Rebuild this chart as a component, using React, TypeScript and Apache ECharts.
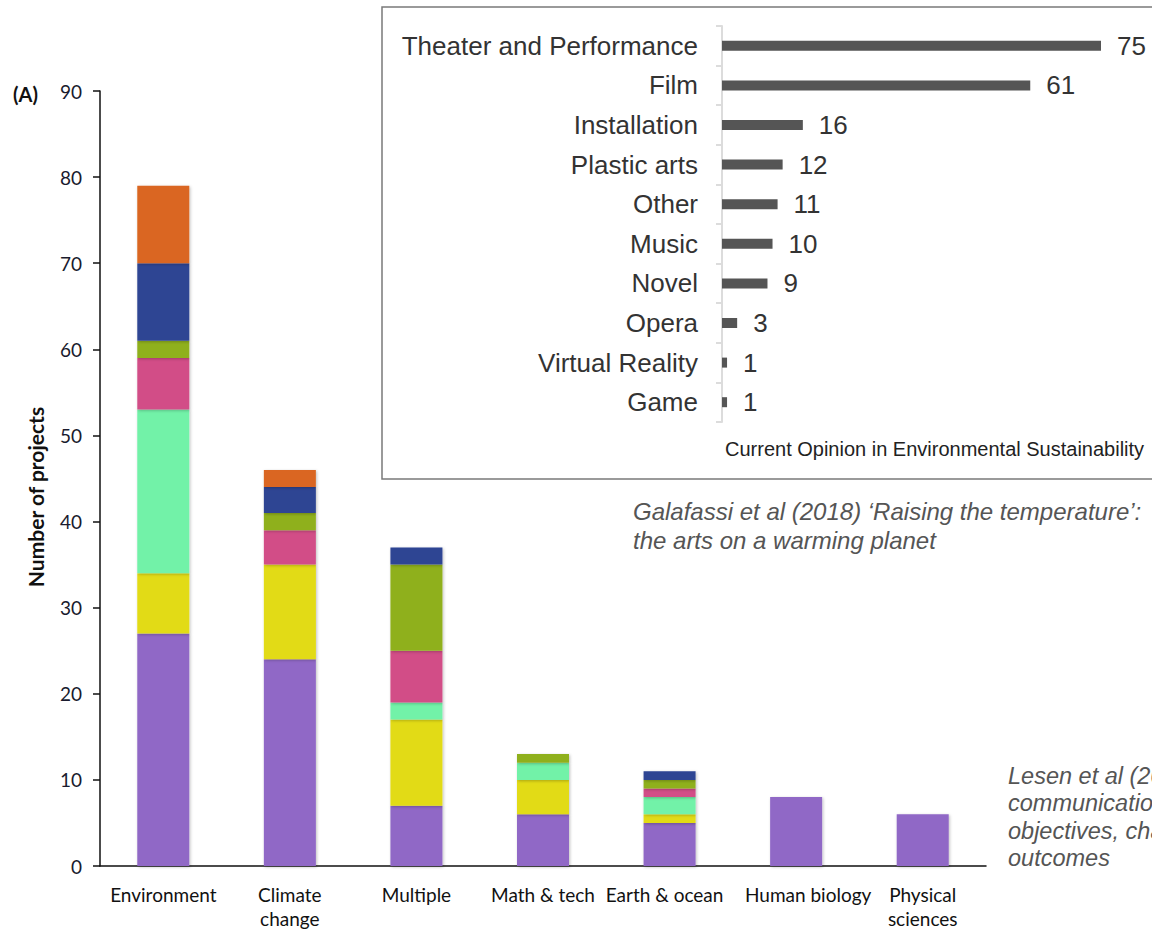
import React, { useEffect, useRef } from "react";
import * as echarts from "echarts";

// Main stacked chart
const fields = ["Environment", "Climate\nchange", "Multiple", "Math & tech", "Earth & ocean", "Human biology", "Physical\nsciences"];
const yTicks = [0, 10, 20, 30, 40, 50, 60, 70, 80, 90];
const purple = [27, 24, 7, 6, 5, 8, 6];
const yellow = [7, 11, 10, 4, 1, 0, 0];
const mint = [19, 0, 2, 2, 2, 0, 0];
const pink = [6, 4, 6, 0, 1, 0, 0];
const green = [2, 2, 10, 1, 1, 0, 0];
const blue = [9, 3, 2, 0, 1, 0, 0];
const orange = [9, 2, 0, 0, 0, 0, 0];

// Inset horizontal chart
const artForms = ["Theater and Performance", "Film", "Installation", "Plastic arts", "Other", "Music", "Novel", "Opera", "Virtual Reality", "Game"];
const artCounts = [75, 61, 16, 12, 11, 10, 9, 3, 1, 1];

const stackSeries = [
  { name: "Group 1", data: purple, color: "#9067C6" },
  { name: "Group 2", data: yellow, color: "#E2DB13" },
  { name: "Group 3", data: mint, color: "#72F2A8" },
  { name: "Group 4", data: pink, color: "#D24D87" },
  { name: "Group 5", data: green, color: "#8FB01C" },
  { name: "Group 6", data: blue, color: "#2D4593" },
  { name: "Group 7", data: orange, color: "#DA6620" },
];

export default function App() {
  const ref = useRef<HTMLDivElement>(null);
  useEffect(() => {
    if (!ref.current) return;
    const chart = echarts.init(ref.current, null, { renderer: "svg" });
    const mainFont = "Lato, 'Open Sans', sans-serif";
    const insetFont = "'Liberation Sans', Arial, sans-serif";
    // small horizontal nudges of some category labels, as in the original
    const labelPadding: Record<string, number[]> = {
      "Earth & ocean": [0, 10, 0, 0],
      "Human biology": [0, 0, 0, 24],
    };
    const xData = fields.map((f) =>
      labelPadding[f] ? { value: f, textStyle: { padding: labelPadding[f] } } : f
    );
    chart.setOption({
      animation: false,
      backgroundColor: "#ffffff",
      graphic: [
        {
          type: "rect",
          z: 0,
          shape: { x: 382, y: 7, width: 800, height: 472 },
          style: { fill: "#ffffff", stroke: "#7a7a7a", lineWidth: 1.5 },
        },
        {
          type: "text",
          x: 13,
          y: 94,
          style: { text: "(A)", font: `bold 20px ${mainFont}`, fill: "#111", verticalAlign: "middle" },
        },
        {
          type: "text",
          x: 35,
          y: 497,
          rotation: Math.PI / 2,
          style: { text: "Number of projects", font: `bold 21px ${mainFont}`, fill: "#111", align: "center", verticalAlign: "middle" },
        },
        {
          type: "text",
          x: 725,
          y: 449,
          style: { text: "Current Opinion in Environmental Sustainability", font: `20px ${insetFont}`, fill: "#222", verticalAlign: "middle" },
        },
        {
          type: "text",
          x: 633,
          y: 497,
          style: {
            text: "Galafassi et al (2018) \u2018Raising the temperature\u2019:\nthe arts on a warming planet",
            font: `italic 24px ${insetFont}`,
            fill: "#555",
            lineHeight: 29,
          },
        },
        {
          type: "text",
          x: 1008,
          y: 762,
          style: {
            text: "Lesen et al (2016) Science\ncommunication through art:\nobjectives, challenges, and\noutcomes",
            font: `italic 23.5px ${insetFont}`,
            fill: "#555",
            lineHeight: 27.5,
          },
        },
      ],
      grid: [
        { left: 100, right: 166, top: 91, bottom: 61, containLabel: false },
        { left: 722, right: 51, top: 26, height: 396, containLabel: false },
      ],
      xAxis: [
        {
          type: "category",
          gridIndex: 0,
          data: xData,
          axisLine: { lineStyle: { color: "#111", width: 1.5 } },
          axisTick: { show: false },
          axisLabel: { fontFamily: mainFont, fontSize: 19, color: "#111", margin: 16, lineHeight: 24, interval: 0 },
        },
        { type: "value", gridIndex: 1, min: 0, max: 75, show: false },
      ],
      yAxis: [
        {
          type: "value",
          gridIndex: 0,
          min: 0,
          max: 90,
          interval: 10,
          splitLine: { show: false },
          axisLine: { show: true, lineStyle: { color: "#111", width: 1.5 } },
          axisTick: { show: true, length: 7, lineStyle: { color: "#111", width: 1.5 } },
          axisLabel: {
            fontFamily: mainFont,
            fontSize: 19,
            color: "#1a1b2e",
            margin: 18,
            formatter: (v: number) => (yTicks.includes(v) ? String(v) : ""),
          },
        },
        {
          type: "category",
          gridIndex: 1,
          data: artForms,
          inverse: true,
          axisLine: { show: true, lineStyle: { color: "#dcdcdc", width: 2 } },
          axisTick: { show: true, length: 6, lineStyle: { color: "#dcdcdc", width: 2 } },
          axisLabel: { fontFamily: insetFont, fontSize: 26, color: "#333", margin: 24 },
        },
      ],
      series: [
        ...stackSeries.map((s) => ({
          type: "bar",
          name: s.name,
          stack: "total",
          xAxisIndex: 0,
          yAxisIndex: 0,
          barWidth: 52,
          data: s.data,
          itemStyle: {
            color: s.color,
            shadowBlur: 3,
            shadowColor: "rgba(0,0,0,0.25)",
            shadowOffsetX: 1,
            shadowOffsetY: 1,
          },
        })),
        {
          type: "bar",
          name: "Projects",
          xAxisIndex: 1,
          yAxisIndex: 1,
          barWidth: 10,
          data: artCounts,
          itemStyle: { color: "#555555" },
          label: {
            show: true,
            position: "right",
            distance: 16,
            fontFamily: insetFont,
            fontSize: 26,
            color: "#333",
          },
        },
      ],
    });
    return () => chart.dispose();
  }, []);
  return <div ref={ref} style={{ position: "absolute", left: 0, top: 0, width: 1152, height: 930 }} />;
}
